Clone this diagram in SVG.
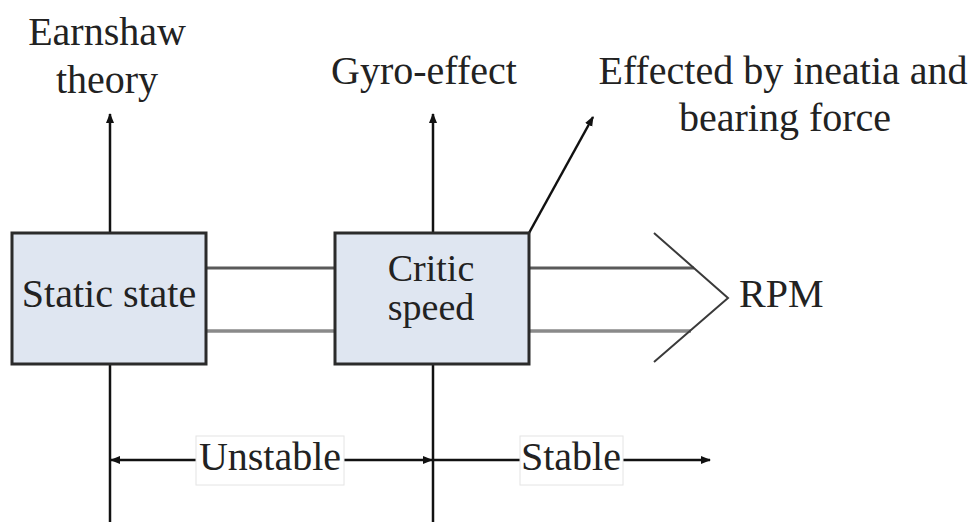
<svg xmlns="http://www.w3.org/2000/svg" width="977" height="522" viewBox="0 0 977 522">
  <style>
    text { font-family: "Times New Roman", "Liberation Serif", Tinos, Times, "Noto Serif", "DejaVu Serif", FreeSerif, serif; font-size: 40px; fill: #222; }
    .box { fill: #dfe6f1; stroke: #2b2b2b; stroke-width: 3; }
    .wire { stroke: #111; stroke-width: 2.5; fill: none; }
    .shaft { stroke: #5a5a5a; stroke-width: 3; fill: none; }
    .shaft2 { stroke: #8a8a8a; stroke-width: 3.5; fill: none; }
    .chev { stroke: #3a3a3a; stroke-width: 2; fill: none; }
    .tag { fill: #fff; stroke: #e4e4e4; stroke-width: 1; }
  </style>
  <defs>
    <marker id="tip" viewBox="0 0 10 10" refX="9" refY="5" markerWidth="4" markerHeight="4" orient="auto-start-reverse" markerUnits="strokeWidth">
      <path d="M0,1 L10,5 L0,9 Z" fill="#111"/>
    </marker>
  </defs>

  <rect width="977" height="522" fill="#fff"/>

  <g id="connectors">
    <!-- vertical axes through the two states -->
    <line class="wire" x1="110" y1="233" x2="110" y2="114" marker-end="url(#tip)"/>
    <line class="wire" x1="110" y1="364" x2="110" y2="522"/>
    <line class="wire" x1="433" y1="233" x2="433" y2="114" marker-end="url(#tip)"/>
    <line class="wire" x1="433" y1="364" x2="433" y2="522"/>
    <!-- diagonal pointer to the inertia note -->
    <line class="wire" x1="529" y1="233" x2="593" y2="117" marker-end="url(#tip)"/>
    <!-- shaft between and after the boxes -->
    <line class="shaft" x1="206" y1="268" x2="335" y2="268"/>
    <line class="shaft2" x1="206" y1="331" x2="335" y2="331"/>
    <line class="shaft" x1="529" y1="268" x2="694" y2="268"/>
    <line class="shaft2" x1="529" y1="331" x2="691" y2="331"/>
    <polyline class="chev" points="654,233 728,298 654,362"/>
    <!-- stability ranges -->
    <line class="wire" x1="196" y1="460" x2="111" y2="460" marker-end="url(#tip)"/>
    <line class="wire" x1="344" y1="460" x2="432" y2="460" marker-end="url(#tip)"/>
    <line class="wire" x1="433" y1="460" x2="520" y2="460"/>
    <line class="wire" x1="623" y1="460" x2="710" y2="460" marker-end="url(#tip)"/>
  </g>

  <g id="static-state">
    <rect class="box" x="12" y="233" width="194" height="131"/>
    <text x="109" y="307" text-anchor="middle">Static state</text>
  </g>

  <g id="critic-speed">
    <rect class="box" x="335" y="233" width="194" height="131"/>
    <text x="431" y="281" text-anchor="middle" style="font-size:38px">Critic</text>
    <text x="431" y="320" text-anchor="middle" style="font-size:38px">speed</text>
  </g>

  <g id="earnshaw">
    <text x="107" y="45" text-anchor="middle">Earnshaw</text>
    <text x="107" y="93" text-anchor="middle">theory</text>
  </g>

  <g id="gyro">
    <text x="424" y="84" text-anchor="middle">Gyro-effect</text>
  </g>

  <g id="inertia">
    <text x="783" y="84" text-anchor="middle">Effected by ineatia and</text>
    <text x="785" y="131" text-anchor="middle">bearing force</text>
  </g>

  <g id="rpm">
    <text x="739" y="307">RPM</text>
  </g>

  <g id="unstable">
    <rect class="tag" x="196" y="436" width="148" height="49"/>
    <text x="270" y="470" text-anchor="middle">Unstable</text>
  </g>

  <g id="stable">
    <rect class="tag" x="520" y="436" width="103" height="49"/>
    <text x="571" y="470" text-anchor="middle">Stable</text>
  </g>
</svg>
